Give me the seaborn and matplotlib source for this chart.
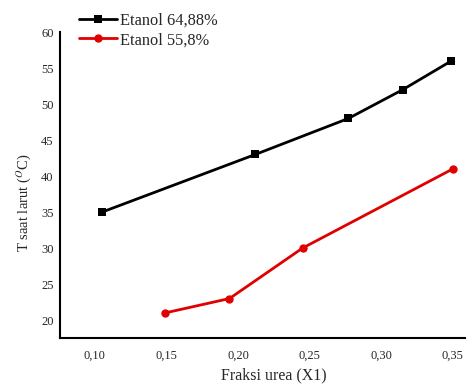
import matplotlib
matplotlib.use("Agg")
import matplotlib.pyplot as plt
import seaborn as sns
import pandas as pd

# Data
series_names = ["Etanol 64,88%", "Etanol 55,8%"]
x_etanol_6488 = [0.105, 0.212, 0.277, 0.315, 0.349]
t_etanol_6488 = [35, 43, 48, 52, 56]
x_etanol_558 = [0.149, 0.194, 0.245, 0.350]
t_etanol_558 = [21, 23, 30, 41]
x_ticks = [0.10, 0.15, 0.20, 0.25, 0.30, 0.35]
x_tick_labels = ["0,10", "0,15", "0,20", "0,25", "0,30", "0,35"]
y_ticks = [20, 25, 30, 35, 40, 45, 50, 55, 60]

df = pd.concat([
    pd.DataFrame({"x": x_etanol_6488, "T": t_etanol_6488, "series": series_names[0]}),
    pd.DataFrame({"x": x_etanol_558, "T": t_etanol_558, "series": series_names[1]}),
], ignore_index=True)

sns.set_style("white")
plt.rcParams["font.family"] = ["Liberation Serif", "DejaVu Serif"]
plt.rcParams["mathtext.fontset"] = "stix"

fig = plt.figure(figsize=(4.72, 3.86), dpi=100)
ax = fig.add_axes([0.127, 0.124, 0.858, 0.793])

palette = {series_names[0]: "#000000", series_names[1]: "#e00000"}
markers = {series_names[0]: "s", series_names[1]: "o"}
sns.lineplot(data=df, x="x", y="T", hue="series", style="series",
             palette=palette, markers=markers, dashes=False,
             markersize=6, linewidth=2, markeredgewidth=0, sort=False, ax=ax)

ax.set_xlim(0.0756, 0.3584)
ax.set_ylim(17.5, 60)
ax.set_xticks(x_ticks)
ax.set_xticklabels(x_tick_labels)
ax.set_yticks(y_ticks)
ax.tick_params(axis="x", labelsize=9, length=0, pad=8)
ax.tick_params(axis="y", labelsize=9, length=0, pad=4.5)
ax.set_xlabel("Fraksi urea (X1)", fontsize=11.5, va="center")
ax.xaxis.set_label_coords(0.527, -0.121)
ax.set_ylabel(r"T saat larut ($^{O}$C)", fontsize=10.5, va="center")
ax.yaxis.set_label_coords(-0.089, 0.441)

for side in ["top", "right"]:
    ax.spines[side].set_visible(False)
for side in ["left", "bottom"]:
    ax.spines[side].set_color("black")
    ax.spines[side].set_linewidth(1.5)

leg = ax.legend(loc="upper left", bbox_to_anchor=(0.032, 1.084), frameon=False,
                fontsize=11.8, handlelength=2.3, handletextpad=0.15,
                labelspacing=0.2, borderaxespad=0)

fig.savefig("out.png", dpi=100)
